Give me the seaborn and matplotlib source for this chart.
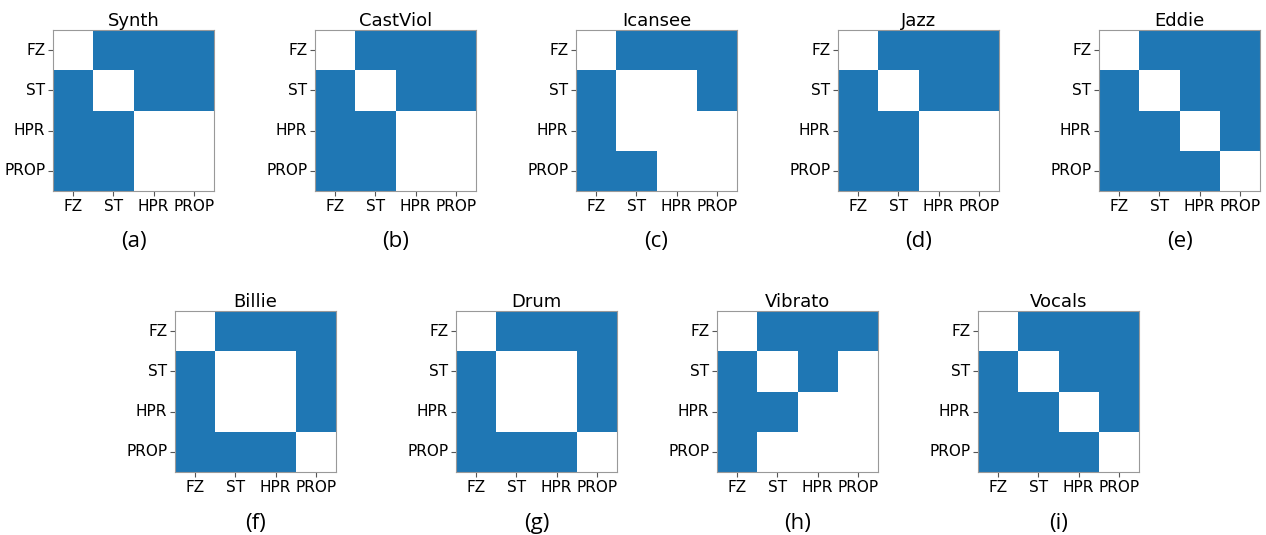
import numpy as np
import pandas as pd
import matplotlib
matplotlib.use("Agg")
import matplotlib.pyplot as plt
import seaborn as sns
from matplotlib.colors import ListedColormap

labels = ["FZ", "ST", "HPR", "PROP"]
titles = ["Synth", "CastViol", "Icansee", "Jazz", "Eddie",
          "Billie", "Drum", "Vibrato", "Vocals"]
letters = ["(a)", "(b)", "(c)", "(d)", "(e)", "(f)", "(g)", "(h)", "(i)"]

synth = [[0, 1, 1, 1], [1, 0, 1, 1], [1, 1, 0, 0], [1, 1, 0, 0]]
castviol = [[0, 1, 1, 1], [1, 0, 1, 1], [1, 1, 0, 0], [1, 1, 0, 0]]
icansee = [[0, 1, 1, 1], [1, 0, 0, 1], [1, 0, 0, 0], [1, 1, 0, 0]]
jazz = [[0, 1, 1, 1], [1, 0, 1, 1], [1, 1, 0, 0], [1, 1, 0, 0]]
eddie = [[0, 1, 1, 1], [1, 0, 1, 1], [1, 1, 0, 1], [1, 1, 1, 0]]
billie = [[0, 1, 1, 1], [1, 0, 0, 1], [1, 0, 0, 1], [1, 1, 1, 0]]
drum = [[0, 1, 1, 1], [1, 0, 0, 1], [1, 0, 0, 1], [1, 1, 1, 0]]
vibrato = [[0, 1, 1, 1], [1, 0, 1, 0], [1, 1, 0, 0], [1, 0, 0, 0]]
vocals = [[0, 1, 1, 1], [1, 0, 1, 1], [1, 1, 0, 1], [1, 1, 1, 0]]

matrices = [synth, castviol, icansee, jazz, eddie, billie, drum, vibrato, vocals]

W, H = 1266, 535
fig = plt.figure(figsize=(W / 100, H / 100), dpi=100)
cmap = ListedColormap(["white", "#1f77b4"])

top_lefts = [53, 315, 576, 838, 1099]
bot_lefts = [175, 456, 717, 978]
size = 161
positions = [(x, 30) for x in top_lefts] + [(x, 311) for x in bot_lefts]

for (x, y), mat, title, letter in zip(positions, matrices, titles, letters):
    ax = fig.add_axes([x / W, 1 - (y + size) / H, size / W, size / H])
    df = pd.DataFrame(mat, index=labels, columns=labels)
    sns.heatmap(df, ax=ax, cmap=cmap, vmin=0, vmax=1, cbar=False,
                square=False, linewidths=0)
    for s in ax.spines.values():
        s.set_visible(True)
        s.set_color("#999999")
        s.set_linewidth(0.8)
    ax.tick_params(axis="both", length=3.5, width=0.8, color="#555555",
                   labelsize=11, pad=2)
    ax.set_yticklabels(labels, rotation=0)
    ax.set_xticklabels(labels, rotation=0)
    ax.set_title(title, fontsize=13, pad=2)
    ax.set_xlabel("")
    ax.set_ylabel("")
    fig.text((x + size / 2) / W, 1 - (y + 212) / H, letter,
             ha="center", va="center", fontsize=16, family="Open Sans")

fig.savefig("out.png", dpi=100)
